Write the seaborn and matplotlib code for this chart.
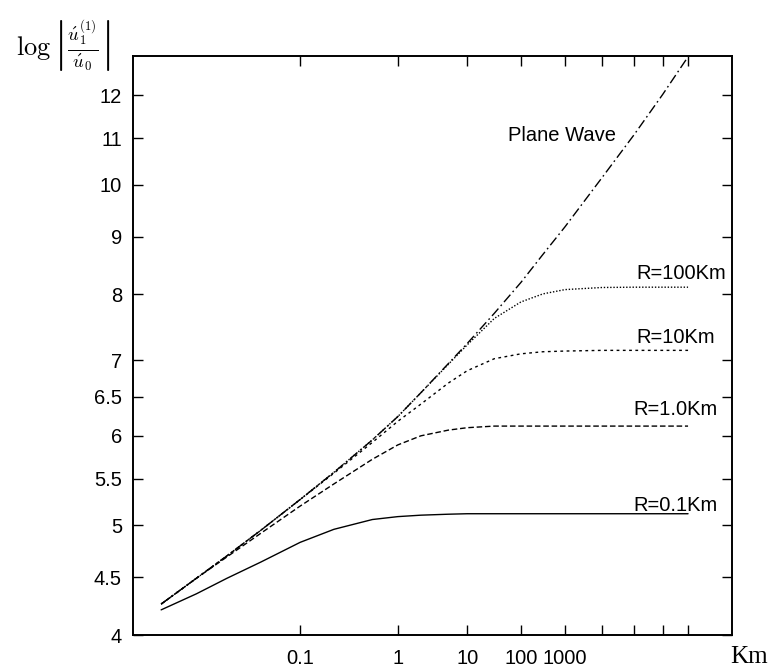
import numpy as np
import pandas as pd
import matplotlib
matplotlib.use("Agg")
import matplotlib.pyplot as plt
import seaborn as sns

# ---------------- data ----------------
dist_km = [0.0133, 0.02, 0.03, 0.05, 0.1, 0.2, 0.5, 1, 2, 5, 10, 30, 100, 300,
           1000, 1e4, 1e5, 1e6, 1e7]
plane_wave = [4.26, 4.49, 4.70, 4.95, 5.27, 5.57, 5.95, 6.24, 6.55, 6.95, 7.24,
              7.70, 8.20, 8.68, 9.18, 10.15, 11.08, 12.02, 12.98]
r_100km = [4.26, 4.49, 4.70, 4.95, 5.27, 5.57, 5.95, 6.24, 6.55, 6.94, 7.22,
           7.62, 7.88, 8.01, 8.08, 8.115, 8.12, 8.12, 8.12]
r_10km = [4.26, 4.49, 4.70, 4.95, 5.27, 5.56, 5.92, 6.18, 6.40, 6.68, 6.85,
          7.02, 7.09, 7.12, 7.13, 7.14, 7.14, 7.14, 7.14]
r_1km = [4.26, 4.49, 4.69, 4.92, 5.20, 5.44, 5.72, 5.89, 6.00, 6.07, 6.10,
         6.12, 6.12, 6.12, 6.12, 6.12, 6.12, 6.12, 6.12]
r_01km = [4.21, 4.35, 4.49, 4.64, 4.83, 4.96, 5.06, 5.09, 5.105, 5.115, 5.12,
          5.12, 5.12, 5.12, 5.12, 5.12, 5.12, 5.12, 5.12]

series_names = ["Plane Wave", "R=100Km", "R=10Km", "R=1.0Km", "R=0.1Km"]
series_values = [plane_wave, r_100km, r_10km, r_1km, r_01km]

y_ticks = [4, 4.5, 5, 5.5, 6, 6.5, 7, 8, 9, 10, 11, 12]
y_tick_labels = ["4", "4.5", "5", "5.5", "6", "6.5", "7", "8", "9", "10", "11", "12"]
x_ticks = [0.1, 1, 10, 100, 1000, 1e4, 1e5, 1e6, 1e7]
x_tick_labels = ["0.1", "1", "10", "100", "1000", "", "", "", ""]

df = pd.concat(
    [pd.DataFrame({"dist": dist_km, "val": v, "series": n})
     for n, v in zip(series_names, series_values)],
    ignore_index=True)

# ---------------- styling ----------------
sns.set_theme(style="ticks")
sans = ["Liberation Sans Narrow", "Liberation Sans", "DejaVu Sans"]
plt.rcParams["font.family"] = sans
plt.rcParams["mathtext.fontset"] = "cm"

fig = plt.figure(figsize=(7.69, 6.71), dpi=100)
ax = fig.add_axes([133 / 769, 1 - 635 / 671, (732 - 133) / 769, (635 - 56) / 671])

dashes = {
    "Plane Wave": (7, 2.5, 1.2, 2.5),
    "R=100Km": (1, 1.3),
    "R=10Km": (2, 2.5),
    "R=1.0Km": (4, 2),
    "R=0.1Km": "",
}
sns.lineplot(data=df, x="dist", y="val", style="series", dashes=dashes,
             color="black", linewidth=1.0, legend=False, estimator=None,
             sort=True, ax=ax)


def fwd(x):
    x = np.asarray(x, dtype=float)
    return np.log(np.log10(np.clip(x * 1000.0, 1.0 + 1e-12, None)))


def inv(t):
    t = np.asarray(t, dtype=float)
    return 10.0 ** np.exp(t) / 1000.0


ax.set_xscale("function", functions=(fwd, inv))
ax.set_yscale("log")
ax.set_xlim(0.01, 1e9)
ax.set_ylim(4, 13)

ax.set_xticks(x_ticks)
ax.set_xticklabels(x_tick_labels)
ax.set_yticks(y_ticks)
ax.set_yticklabels(y_tick_labels)
ax.xaxis.set_minor_locator(matplotlib.ticker.NullLocator())
ax.yaxis.set_minor_locator(matplotlib.ticker.NullLocator())

ax.tick_params(axis="both", which="major", direction="in", length=7, width=1,
               top=True, right=True, labelsize=14.5, colors="black")
ax.tick_params(axis="y", pad=8)
ax.tick_params(axis="x", pad=10)
for s in ax.spines.values():
    s.set_linewidth(1.4)
    s.set_color("black")
ax.set_xlabel("")
ax.set_ylabel("")

# curve labels
lab_kw = dict(transform=ax.transAxes, fontsize=14.5, ha="left", va="center",
              color="black")
ax.text(0.626, 0.862, "Plane Wave", **lab_kw)
ax.text(0.840, 0.6235, "R=100Km", **lab_kw)
ax.text(0.840, 0.513, "R=10Km", **lab_kw)
ax.text(0.835, 0.390, "R=1.0Km", **lab_kw)
ax.text(0.835, 0.2245, "R=0.1Km", **lab_kw)

# axis labels
fig.text(16 / 769, 1 - 46 / 671,
         r"$\log\left|\frac{\acute{u}_1^{(1)}}{\acute{u}_0}\right|$",
         fontsize=19, ha="left", va="center", color="black")
fig.text(749 / 769, 1 - 657 / 671, "Km", fontsize=18, ha="center",
         va="center", family=["Liberation Serif", "DejaVu Serif"], color="black")

fig.savefig("out.png", dpi=100)
